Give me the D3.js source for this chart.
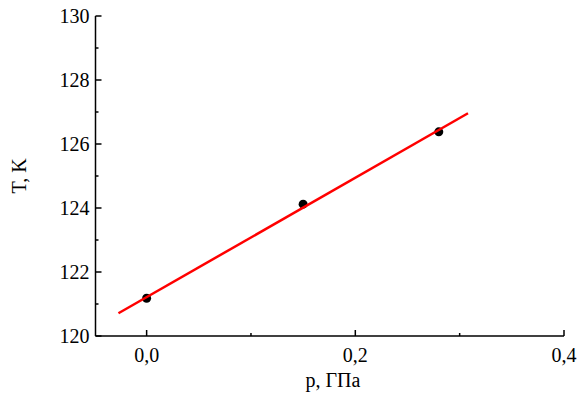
<!DOCTYPE html>
<html>
<head>
<meta charset="utf-8">
<script src="https://cdn.jsdelivr.net/npm/d3@7"></script>
<style>
  body { margin: 0; background: #fff; }
</style>
</head>
<body>
<div id="chart"></div>
<script>
// measured points
const pressure = [0.0, 0.15, 0.28];
const temperature = [121.18, 124.12, 126.38];

// fitted line end points
const fitP = [-0.027, 0.308];
const fitT = [120.71, 126.96];

const xMajor = [0.0, 0.2, 0.4];
const xMinor = [0.1, 0.3];
const yMajor = [120, 122, 124, 126, 128, 130];
const yMinor = [121, 123, 125, 127, 129];

const width = 579, height = 397;
const margin = {top: 16, right: 15, bottom: 61, left: 95.5};
const serif = '"Liberation Serif", "Times New Roman", Times, serif';

const svg = d3.select('#chart').append('svg')
  .attr('width', width)
  .attr('height', height)
  .attr('font-family', serif)
  .style('font-family', serif);

const x = d3.scaleLinear().domain([-0.049, 0.4]).range([margin.left, width - margin.right]);
const y = d3.scaleLinear().domain([120, 130]).range([height - margin.bottom, margin.top]);

const fmt = d => d3.format('.1f')(d).replace('.', ',');

// x axis
const xAxis = svg.append('g').attr('transform', `translate(0,${y(120)})`);
xAxis.append('line')
  .attr('x1', x.range()[0]).attr('x2', x.range()[1])
  .attr('stroke', '#000').attr('stroke-width', 1.5);
xAxis.selectAll('line.major').data(xMajor).enter().append('line')
  .attr('class', 'major')
  .attr('x1', d => x(d)).attr('x2', d => x(d))
  .attr('y1', 0).attr('y2', -6)
  .attr('stroke', '#000').attr('stroke-width', 1.5);
xAxis.selectAll('line.minor').data(xMinor).enter().append('line')
  .attr('class', 'minor')
  .attr('x1', d => x(d)).attr('x2', d => x(d))
  .attr('y1', 0).attr('y2', -3)
  .attr('stroke', '#000').attr('stroke-width', 1.5);
xAxis.selectAll('text').data(xMajor).enter().append('text')
  .attr('x', d => x(d)).attr('y', 26)
  .attr('text-anchor', 'middle')
  .style('font-size', '20px')
  .text(fmt);

// y axis
const yAxis = svg.append('g').attr('transform', `translate(${x.range()[0]},0)`);
yAxis.append('line')
  .attr('y1', y.range()[0]).attr('y2', y.range()[1])
  .attr('stroke', '#000').attr('stroke-width', 1.5);
yAxis.selectAll('line.major').data(yMajor).enter().append('line')
  .attr('class', 'major')
  .attr('y1', d => y(d)).attr('y2', d => y(d))
  .attr('x1', 0).attr('x2', 6)
  .attr('stroke', '#000').attr('stroke-width', 1.5);
yAxis.selectAll('line.minor').data(yMinor).enter().append('line')
  .attr('class', 'minor')
  .attr('y1', d => y(d)).attr('y2', d => y(d))
  .attr('x1', 0).attr('x2', 3)
  .attr('stroke', '#000').attr('stroke-width', 1.5);
yAxis.selectAll('text').data(yMajor).enter().append('text')
  .attr('x', -6).attr('y', d => y(d))
  .attr('dy', '0.35em')
  .attr('text-anchor', 'end')
  .style('font-size', '20px')
  .text(d => d);

// axis titles
svg.append('text')
  .attr('x', 333).attr('y', 387)
  .attr('text-anchor', 'middle')
  .style('font-size', '20px')
  .text('p, ГПа');

svg.append('text')
  .attr('transform', `translate(26,${(y(120) + y(130)) / 2}) rotate(-90)`)
  .attr('text-anchor', 'middle')
  .style('font-size', '20px')
  .text('T, K');

// points
svg.selectAll('circle.pt').data(pressure).enter().append('circle')
  .attr('class', 'pt')
  .attr('cx', d => x(d))
  .attr('cy', (d, i) => y(temperature[i]))
  .attr('r', 4.5)
  .attr('fill', '#000');

// fit line
svg.append('line')
  .attr('x1', x(fitP[0])).attr('y1', y(fitT[0]))
  .attr('x2', x(fitP[1])).attr('y2', y(fitT[1]))
  .attr('stroke', '#ff0000')
  .attr('stroke-width', 2.5);
</script>
</body>
</html>
